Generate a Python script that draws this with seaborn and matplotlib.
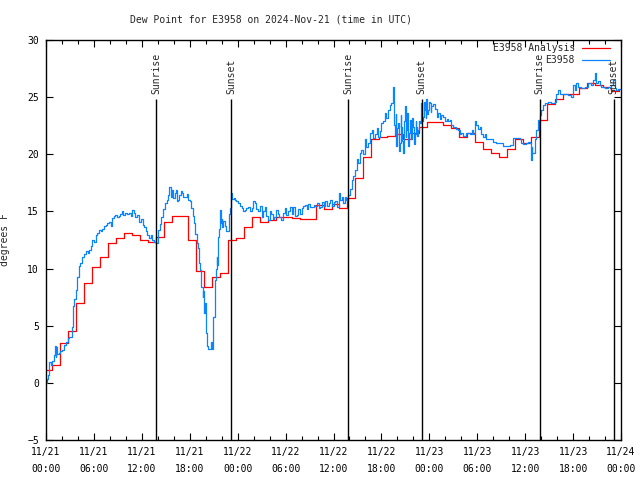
import matplotlib
matplotlib.use("Agg")
import matplotlib.pyplot as plt
import matplotlib.dates as mdates
import numpy as np
import pandas as pd
import seaborn as sns

start = pd.Timestamp("2024-11-21 00:00")

# hourly analysis values (each one holds from h-0.25 to h+0.75)
analysis = [1.1, 1.6, 3.5, 4.5, 7.0, 8.7, 10.1, 11.0, 12.2, 12.7, 13.1, 12.9, 12.5, 12.3,
            12.8, 14.1, 14.6, 14.6, 12.5, 9.8, 8.4, 9.3, 9.6, 12.5, 12.7, 13.6, 14.55, 14.05,
            14.25, 14.55, 14.55, 14.4, 14.35, 14.35, 15.6, 15.2, 15.65, 15.3, 16.2, 17.9, 19.8,
            21.3, 21.5, 21.6, 21.8, 21.3, 21.9, 22.4, 22.8, 22.8, 22.6, 22.3, 21.5, 21.9, 21.1,
            20.5, 20.1, 19.8, 20.5, 21.3, 21.0, 21.5, 23.0, 24.4, 24.8, 25.3, 25.3, 25.8, 26.2,
            26.1, 25.9, 25.5, 25.6]

# station observations: (hours since start, dew point F)
obs = [
    (0.0, 0.0), (0.1, 0.3), (0.2, 0.7), (0.4, 1.8), (0.6, 1.6), (0.8, 1.9), (1.0, 2.4),
    (1.1, 3.2), (1.2, 2.3), (1.3, 3.1), (1.4, 2.5), (1.6, 2.6), (1.8, 2.8), (2.0, 2.9),
    (2.2, 3.3), (2.45, 3.6), (2.7, 3.9), (2.9, 4.05), (3.2, 4.9), (3.35, 6.7), (3.45, 7.3),
    (3.7, 8.1), (3.9, 9.3), (4.1, 10.2), (4.3, 10.5), (4.55, 11.05), (4.75, 11.3),
    (4.96, 11.5), (5.2, 11.4), (5.4, 11.6), (5.6, 12.0), (5.8, 12.5), (6.0, 12.3),
    (6.2, 12.95), (6.4, 13.1), (6.65, 13.4), (6.85, 13.3), (7.05, 13.5), (7.3, 13.7),
    (7.5, 13.8), (7.7, 14.0), (7.9, 14.1), (8.1, 13.7), (8.3, 14.4), (8.5, 14.6), (8.7, 14.7),
    (8.9, 14.5), (9.1, 14.6), (9.3, 14.8), (9.55, 15.0), (9.7, 14.7), (9.9, 14.9),
    (10.1, 14.8), (10.4, 14.9), (10.6, 14.6), (10.8, 15.1), (11.0, 14.9), (11.2, 14.55),
    (11.4, 14.7), (11.65, 14.1), (11.9, 14.3), (12.1, 13.8), (12.3, 13.6), (12.5, 13.25),
    (12.7, 12.9), (12.9, 12.65), (13.1, 12.9), (13.3, 12.5), (13.5, 12.36), (13.8, 12.2),
    (14.05, 13.4), (14.25, 13.9), (14.45, 14.55), (14.7, 15.2), (14.9, 15.7), (15.1, 16.0),
    (15.3, 16.45), (15.45, 17.1), (15.6, 16.3), (15.75, 16.9), (15.9, 16.2), (16.1, 16.6),
    (16.3, 16.9), (16.45, 15.9), (16.55, 16.0), (16.7, 16.4), (16.85, 16.8), (17.0, 16.6),
    (17.2, 16.3), (17.4, 16.3), (17.6, 16.5), (17.8, 16.0), (18.0, 15.9), (18.2, 15.3),
    (18.35, 14.6), (18.5, 14.0), (18.7, 13.0), (18.85, 12.2), (19.0, 11.8), (19.1, 10.5),
    (19.3, 9.9), (19.45, 8.4), (19.6, 7.5), (19.7, 8.0), (19.8, 6.1), (19.9, 7.0),
    (20.0, 4.4), (20.1, 3.2), (20.25, 3.0), (20.45, 3.0), (20.6, 3.6), (20.75, 3.0),
    (20.95, 5.8), (21.15, 9.0), (21.3, 10.0), (21.35, 11.05), (21.45, 10.3), (21.55, 12.8),
    (21.7, 13.5), (21.8, 15.1), (21.9, 14.0), (22.0, 14.3), (22.1, 13.6), (22.2, 14.2),
    (22.4, 13.7), (22.55, 13.3), (22.7, 13.25), (22.9, 14.8), (23.05, 15.3), (23.2, 16.6),
    (23.35, 16.1), (23.5, 16.2), (23.65, 16.0), (23.85, 15.9), (24.05, 15.7), (24.25, 15.5),
    (24.5, 15.3), (24.7, 15.0), (24.9, 15.1), (25.1, 15.3), (25.3, 15.4), (25.5, 15.0),
    (25.74, 15.3), (25.95, 15.9), (26.15, 15.7), (26.35, 15.2), (26.6, 15.0), (26.8, 15.5),
    (27.0, 14.55), (27.2, 15.0), (27.4, 15.4), (27.6, 14.6), (27.8, 14.25), (28.0, 15.0),
    (28.2, 14.8), (28.4, 14.3), (28.6, 14.55), (28.8, 15.1), (29.0, 14.8), (29.2, 14.5),
    (29.45, 14.25), (29.65, 14.9), (29.9, 15.3), (30.1, 14.7), (30.3, 15.0), (30.5, 15.4),
    (30.75, 14.8), (30.95, 15.4), (31.15, 14.6), (31.4, 14.7), (31.6, 15.2), (31.8, 14.8),
    (32.0, 15.3), (32.2, 15.5), (32.4, 15.6), (32.65, 15.2), (32.85, 15.65), (33.05, 15.4),
    (33.3, 15.4), (33.5, 15.6), (33.7, 15.5), (33.95, 15.7), (34.15, 15.3), (34.35, 15.4),
    (34.55, 15.8), (34.75, 15.5), (34.95, 15.9), (35.2, 15.5), (35.4, 15.7), (35.6, 16.0),
    (35.8, 15.5), (36.0, 15.8), (36.2, 15.9), (36.45, 15.4), (36.65, 16.6), (36.85, 16.0),
    (37.05, 16.3), (37.25, 15.7), (37.42, 16.3), (37.6, 16.0), (37.84, 16.4), (38.05, 17.0),
    (38.26, 17.76), (38.45, 18.1), (38.67, 18.6), (38.9, 19.6), (39.09, 19.2), (39.3, 20.1),
    (39.5, 20.4), (39.7, 20.0), (39.92, 21.3), (40.1, 20.6), (40.34, 21.0), (40.55, 21.9),
    (40.76, 22.1), (40.95, 21.4), (41.17, 21.8), (41.4, 22.3), (41.59, 21.55), (41.8, 22.0),
    (42.0, 22.7), (42.2, 22.9), (42.42, 23.6), (42.6, 23.2), (42.84, 23.9), (43.05, 24.3),
    (43.26, 24.5), (43.47, 25.9), (43.57, 22.6), (43.67, 21.8), (43.78, 23.5), (43.88, 20.7),
    (43.98, 22.3), (44.09, 22.7), (44.2, 20.3), (44.3, 21.0), (44.4, 23.4), (44.51, 22.4),
    (44.62, 21.2), (44.72, 20.1), (44.83, 22.9), (44.93, 24.2), (45.03, 21.5), (45.13, 22.1),
    (45.24, 23.6), (45.34, 20.7), (45.45, 21.9), (45.55, 23.0), (45.66, 22.0), (45.76, 21.3),
    (45.87, 23.2), (45.97, 22.4), (46.08, 20.9), (46.18, 21.8), (46.28, 22.9), (46.38, 22.4),
    (46.49, 21.6), (46.59, 22.1), (46.7, 22.9), (46.8, 22.7), (46.9, 23.8), (47.01, 24.5),
    (47.1, 22.9), (47.22, 23.3), (47.33, 24.6), (47.43, 23.9), (47.53, 23.2), (47.63, 24.8),
    (47.74, 23.5), (47.84, 23.9), (47.95, 24.6), (48.05, 24.5), (48.15, 23.7), (48.26, 24.2),
    (48.47, 24.4), (48.69, 24.0), (48.9, 23.3), (49.11, 23.6), (49.31, 23.1), (49.52, 23.4),
    (49.73, 23.3), (49.94, 22.9), (50.15, 23.1), (50.36, 22.9), (50.56, 23.0), (50.77, 22.6),
    (50.98, 22.4), (51.19, 22.4), (51.4, 22.2), (51.61, 22.1), (51.82, 21.8), (52.02, 21.9),
    (52.23, 21.6), (52.65, 21.9), (53.07, 21.8), (53.28, 22.1), (53.49, 21.8), (53.7, 22.9),
    (53.9, 22.6), (54.11, 22.2), (54.32, 22.4), (54.53, 21.8), (54.74, 21.55), (54.95, 21.8),
    (55.15, 21.3), (55.57, 21.3), (55.99, 21.1), (56.41, 21.0), (56.82, 21.0), (57.24, 20.7),
    (57.66, 20.7), (58.07, 20.8), (58.49, 21.4), (58.91, 21.4), (59.33, 21.3), (59.53, 21.0),
    (59.74, 20.9), (60.16, 21.0), (60.37, 21.1), (60.58, 21.0), (60.7, 19.5), (60.8, 20.6),
    (60.91, 20.1), (61.2, 21.3), (61.41, 22.1), (61.62, 23.0), (61.83, 23.4), (62.03, 23.9),
    (62.25, 24.3), (62.45, 24.5), (62.87, 24.6), (63.29, 24.5), (63.7, 24.6), (63.91, 25.3),
    (64.12, 25.6), (64.33, 25.3), (64.54, 25.3), (64.95, 25.3), (65.37, 25.2), (65.79, 25.05),
    (66.0, 26.1), (66.2, 25.6), (66.41, 26.2), (66.62, 25.9), (67.04, 25.8), (67.46, 25.9),
    (67.87, 26.2), (68.29, 26.1), (68.5, 26.5), (68.71, 27.1), (68.92, 26.2), (69.12, 26.4),
    (69.33, 26.1), (69.54, 25.9), (69.96, 25.8), (70.38, 25.9), (70.79, 26.1), (71.0, 26.5),
    (71.21, 25.8), (71.42, 25.6), (71.63, 25.7), (71.96, 25.7)]
obs_hours = [h for h, v in obs]
obs_values = [v for h, v in obs]

sun_hours = [13.77, 23.15, 37.8, 47.06, 61.8, 71.1]
sun_labels = ["Sunrise", "Sunset", "Sunrise", "Sunset", "Sunrise", "Sunset"]

red_times = start + pd.to_timedelta(np.arange(len(analysis)) - 0.25, unit="h")
obs_times = start + pd.to_timedelta(obs_hours, unit="h")
sun_times = start + pd.to_timedelta(sun_hours, unit="h")

sns.set_style("ticks")
fs = 7
plt.rcParams["font.family"] = ["DejaVu Sans Mono"]
plt.rcParams["font.size"] = fs

fig = plt.figure(figsize=(6.4, 4.8), dpi=100)
ax = fig.add_axes([46 / 640, 40 / 480, 575 / 640, 400 / 480])

sns.lineplot(x=red_times, y=analysis, color="#ff0000", linewidth=0.9,
             drawstyle="steps-post", label="E3958 Analysis", ax=ax)
sns.lineplot(x=obs_times, y=obs_values, color="#0a84ff", linewidth=0.9,
             drawstyle="steps-post", label="E3958", ax=ax)

ax.vlines(sun_times, -5, 24.8, color="black", linewidth=1.0)
for t, lab in zip(sun_times, sun_labels):
    ax.text(t, 25.3, lab, rotation=90, ha="center", va="bottom", fontsize=fs)

ax.set_xlim(start, start + pd.Timedelta(hours=72))
ax.set_ylim(-5, 30)
ax.set_yticks(range(-5, 31, 5))
ax.xaxis.set_major_locator(mdates.HourLocator(byhour=[0, 6, 12, 18]))
ax.xaxis.set_minor_locator(mdates.HourLocator(interval=2))
ax.xaxis.set_major_formatter(mdates.DateFormatter("%m/%d\n%H:%M"))
for lab in ax.get_xticklabels():
    lab.set_linespacing(1.9)

ax.tick_params(which="both", direction="in", top=True, right=True, colors="black",
               labelsize=fs, width=0.8)
ax.tick_params(which="major", length=5)
ax.tick_params(which="minor", length=3)
ax.tick_params(axis="x", pad=5)
ax.tick_params(axis="y", pad=5)
for s in ax.spines.values():
    s.set_color("black")
    s.set_linewidth(1.0)

ax.set_xlabel("")
ax.set_ylabel("degrees F", fontsize=fs)
ax.yaxis.set_label_coords(-0.063, 0.5)

ax.legend(loc="upper right", bbox_to_anchor=(610 / 640, 1 - 43 / 480),
          bbox_transform=fig.transFigure, frameon=False, markerfirst=False,
          handlelength=2.9, handletextpad=0.7, borderpad=0, borderaxespad=0,
          labelspacing=0.2, fontsize=fs)

fig.text(271.5 / 640, 1 - 19 / 480, "Dew Point for E3958 on 2024-Nov-21 (time in UTC)",
         ha="center", va="center", fontsize=fs)

fig.savefig("out.png", dpi=100)
